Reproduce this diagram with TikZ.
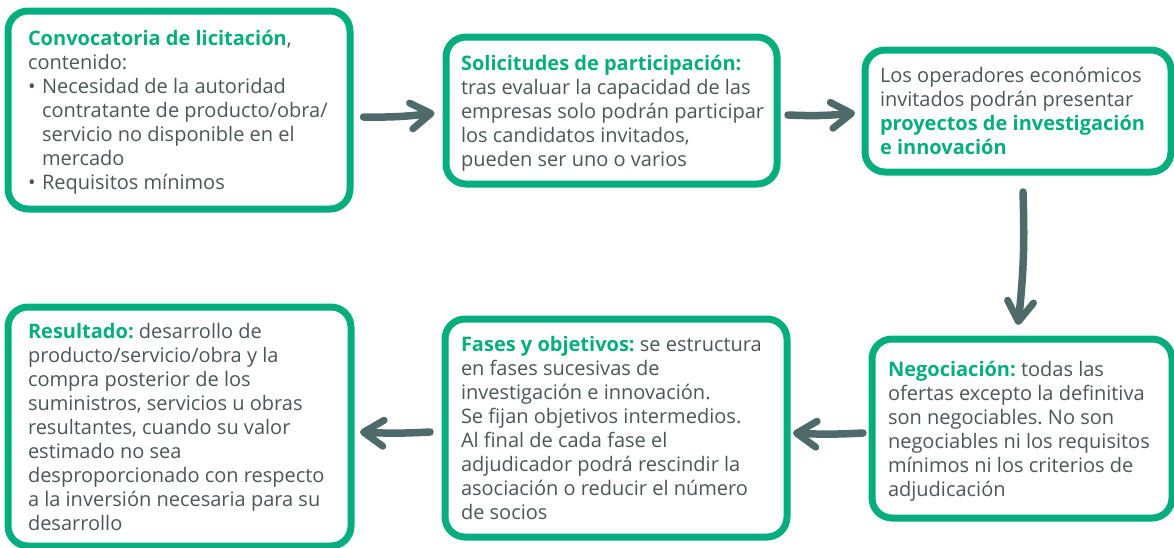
\documentclass[tikz,border=0pt]{standalone}
\usepackage{fontspec}
\setmainfont{Open Sans}
\usetikzlibrary{arrows.meta}
\definecolor{verde}{HTML}{06AE7F}
\definecolor{gris}{HTML}{4A5758}
\definecolor{flecha}{HTML}{4F6A6A}
\newcommand{\titulo}[1]{\textcolor{verde}{\textbf{#1}}}
\newcommand{\vineta}{\makebox[14pt][l]{\textbullet}}
% lineas sin cortar, alineadas a la izquierda en un ancho dado
\newcommand{\lineas}[2]{\raisebox{-3pt}[\height][\depth]{\makebox[#1][l]{\begin{tabular}{@{}l@{}}#2\end{tabular}}}}
\frenchspacing

\begin{document}
\begin{tikzpicture}[x=1pt, y=-1pt,
		caja/.style={draw=verde, line width=7pt, rounded corners=20pt, fill=white,
			text=gris, inner sep=0pt,
			font=\fontsize{20}{24}\selectfont},
		flujo/.style={draw=flecha, line width=7.5pt, line cap=round,
			-{Straight Barb[length=20pt, width=26pt, line width=7pt, round]}}]
	\useasboundingbox (0,0) rectangle (1174,547);
	\clip (0,0) rectangle (1174,547);
	% fila de arriba
	\node[caja, minimum width=342, minimum height=198] (conv) at (179,110) {\lineas{302pt}{%
		\titulo{Convocatoria de licitación},\\
		contenido:\\
		\vineta Necesidad de la autoridad\\
		\hspace*{14pt}contratante de producto/obra/\\
		\hspace*{14pt}servicio no disponible en el\\
		\hspace*{14pt}mercado\\
		\vineta Requisitos mínimos}};
	\node[caja, minimum width=331, minimum height=147] (solic) at (611.5,110.5) {\lineas{301pt}{%
		\titulo{Solicitudes de participación:}\\
		tras evaluar la capacidad de las\\
		empresas solo podrán participar\\
		los candidatos invitados,\\
		pueden ser uno o varios}};
	\node[caja, minimum width=306, minimum height=122] (oper) at (1018,111) {\lineas{276pt}{%
		Los operadores económicos\\
		invitados podrán presentar\\
		\titulo{proyectos de investigación}\\
		\titulo{e innovación}}};
	% fila de abajo
	\node[caja, minimum width=300, minimum height=179] (negoc) at (1022,428.5) {\lineas{268pt}{%
		\titulo{Negociación:} todas las\\
		ofertas excepto la definitiva\\
		son negociables. No son\\
		negociables ni los requisitos\\
		mínimos ni los criterios de\\
		adjudicación}};
	\node[caja, minimum width=342, minimum height=218] (fases) at (616,428) {\lineas{310pt}{%
		\titulo{Fases y objetivos:} se estructura\\
		en fases sucesivas de\\
		investigación e innovación.\\
		Se fijan objetivos intermedios.\\
		Al final de cada fase el\\
		adjudicador podrá rescindir la\\
		asociación o reducir el número\\
		de socios}};
	\node[caja, minimum width=343, minimum height=239] (result) at (179.5,426.5) {\lineas{303pt}{%
		\titulo{Resultado:} desarrollo de\\
		producto/servicio/obra y la\\
		compra posterior de los\\
		suministros, servicios u obras\\
		resultantes, cuando su valor\\
		estimado no sea\\
		desproporcionado con respecto\\
		a la inversión necesaria para su\\
		desarrollo}};
	% flechas
	\draw[flujo] ([xshift=10pt, yshift=-7pt]conv.east) to[bend right=4] ([xshift=-8pt, yshift=-2.5pt]solic.west);
	\draw[flujo] ([xshift=7.5pt, yshift=-4.5pt]solic.east) to[bend right=4] ([xshift=-6.5pt, yshift=-2pt]oper.west);
	\draw[flujo] ([xshift=5pt, yshift=-16.5pt]oper.south) to[bend left=4] ([xshift=-4pt, yshift=10.5pt]negoc.north);
	\draw[flujo] ([xshift=-5.5pt, yshift=-4.5pt]negoc.west) to[bend left=3] ([xshift=2.5pt, yshift=-5pt]fases.east);
	\draw[flujo] ([xshift=-11.5pt, yshift=-4pt]fases.west) to[bend left=3] ([xshift=5.5pt, yshift=-5.5pt]result.east);
\end{tikzpicture}
\end{document}
